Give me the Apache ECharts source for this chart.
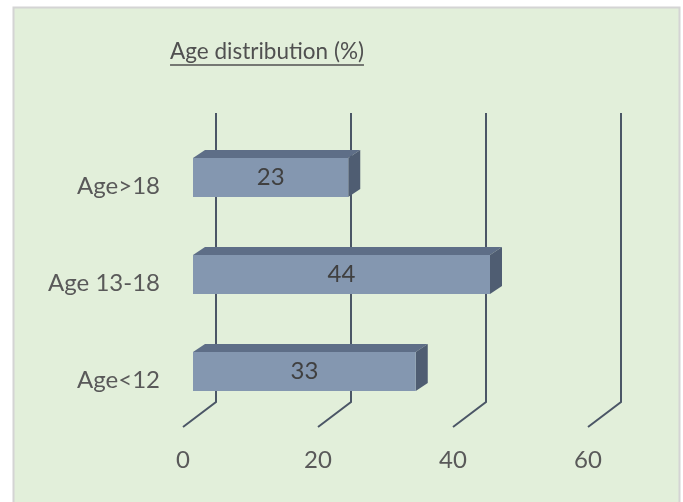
<!DOCTYPE html>
<html>
<head>
<meta charset="utf-8">
<script src="https://cdn.jsdelivr.net/npm/echarts@6/dist/echarts.min.js"></script>
<style>
  html, body { margin: 0; padding: 0; background: #ffffff; }
  #chart { width: 683px; height: 502px; }
</style>
</head>
<body>
<div id="chart"></div>
<script>
// Age groups (bottom to top) and their share in percent
const categories = ['Age<12', 'Age 13-18', 'Age>18'];
const values = [33, 44, 23];
// Value-axis ticks
const xTicks = [0, 20, 40, 60];
const titleText = 'Age distribution (%)';

const FONT = 'Lato, "Liberation Sans", sans-serif';
const TEXT_COLOR = '#595959';

// 3D look: depth offset of the bar boxes and of the floor/back wall
const BAR_DX = 12, BAR_DY = 8;
const WALL_DX = 23, FLOOR_DX = -10;

function measure(text, font) {
  const ctx = document.createElement('canvas').getContext('2d');
  ctx.font = font;
  return ctx.measureText(text).width;
}

const chart = echarts.init(document.getElementById('chart'), null, { renderer: 'canvas' });

const titleX = 267, titleY = 52, titleSize = 22.5;
const titleW = measure(titleText, titleSize + 'px ' + FONT);

function renderGridLine(params, api) {
  const cs = params.coordSys;
  const x = api.coord([api.value(0), 0])[0];
  const top = cs.y - 16;
  const bend = cs.y + cs.height - 18;
  const front = cs.y + cs.height + 7;
  return {
    type: 'polyline',
    shape: { points: [[x + WALL_DX, top], [x + WALL_DX, bend], [x + FLOOR_DX, front]] },
    style: { stroke: '#4b5666', lineWidth: 2, fill: null }
  };
}

function renderBar(params, api) {
  const v = api.value(0);
  const cat = api.value(1);
  const p0 = api.coord([0, cat]);
  const p1 = api.coord([v, cat]);
  const h = api.size([0, 1])[1] * 0.4;
  const x0 = p0[0], x1 = p1[0];
  const yt = p0[1] - h / 2, yb = p0[1] + h / 2;
  return {
    type: 'group',
    children: [
      {
        type: 'polygon',
        shape: { points: [[x0, yt], [x1, yt], [x1 + BAR_DX, yt - BAR_DY], [x0 + BAR_DX, yt - BAR_DY]] },
        style: { fill: '#5e6e87' }
      },
      {
        type: 'polygon',
        shape: { points: [[x1, yt], [x1 + BAR_DX, yt - BAR_DY], [x1 + BAR_DX, yb - BAR_DY], [x1, yb]] },
        style: { fill: '#4f5d72' }
      },
      {
        type: 'rect',
        shape: { x: x0, y: yt, width: x1 - x0, height: h },
        style: { fill: '#8497b0' }
      },
      {
        type: 'text',
        x: (x0 + x1) / 2,
        y: p0[1],
        style: {
          text: String(v),
          fill: '#404040',
          font: '24px ' + FONT,
          align: 'center',
          verticalAlign: 'middle'
        }
      }
    ]
  };
}

chart.setOption({
  animation: false,
  graphic: [
    {
      type: 'rect',
      z: -10,
      shape: { x: 13.5, y: 7.5, width: 666, height: 500 },
      style: { fill: '#e2efda', stroke: '#d4d4d4', lineWidth: 2 }
    },
    {
      type: 'text',
      x: titleX,
      y: titleY,
      style: {
        text: titleText,
        fill: '#505050',
        font: titleSize + 'px ' + FONT,
        align: 'center',
        verticalAlign: 'middle'
      }
    },
    {
      type: 'line',
      shape: { x1: titleX - titleW / 2, y1: titleY + 13, x2: titleX + titleW / 2, y2: titleY + 13 },
      style: { stroke: '#505050', lineWidth: 1.5 }
    }
  ],
  grid: {
    left: 193, right: 85, top: 129, bottom: 82,
    containLabel: false,
    outerBoundsMode: 'none'
  },
  xAxis: {
    type: 'value',
    min: 0, max: 60, interval: 20,
    axisLine: { show: false },
    axisTick: { show: false },
    splitLine: { show: false },
    axisLabel: {
      margin: 28,
      padding: [0, 20, 0, 0],
      color: TEXT_COLOR,
      fontSize: 24,
      fontFamily: FONT
    }
  },
  yAxis: {
    type: 'category',
    data: categories,
    axisLine: { show: false },
    axisTick: { show: false },
    splitLine: { show: false },
    axisLabel: {
      margin: 33,
      verticalAlign: 'top',
      lineHeight: 18,
      color: TEXT_COLOR,
      fontSize: 24,
      fontFamily: FONT
    }
  },
  series: [
    {
      type: 'custom',
      z: 1,
      renderItem: renderGridLine,
      encode: { x: 0 },
      data: xTicks.map(v => [v]),
      silent: true
    },
    {
      type: 'custom',
      z: 2,
      renderItem: renderBar,
      encode: { x: 0, y: 1 },
      data: values.map((v, i) => [v, i])
    }
  ]
});
</script>
</body>
</html>
